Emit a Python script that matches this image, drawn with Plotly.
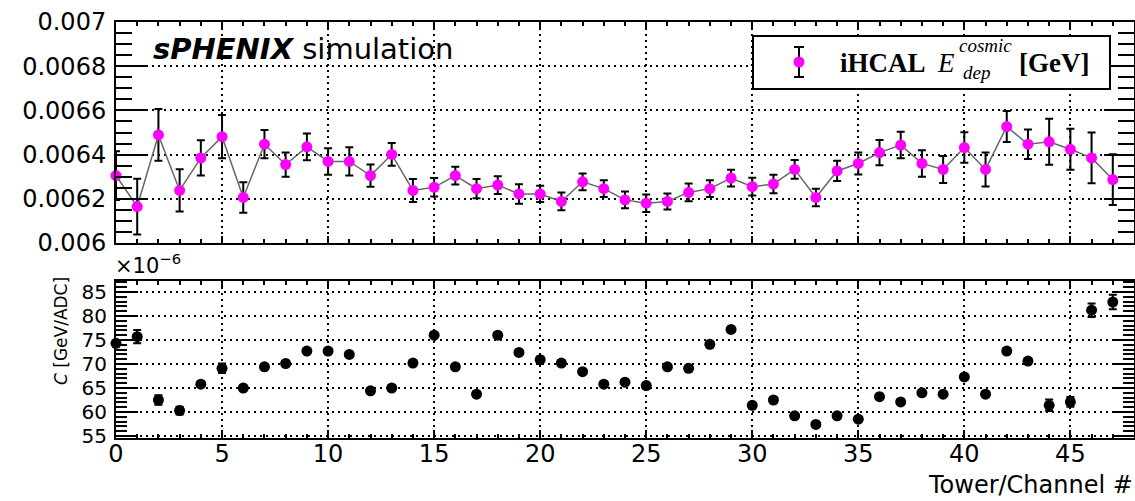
import plotly.graph_objects as go

# ---------------- data ----------------
channels = list(range(48))

edep_vals = [0.006305, 0.006165, 0.006489, 0.006238, 0.006385, 0.006481, 0.006206, 0.006447,
             0.006355, 0.006435, 0.006369, 0.006369, 0.006305, 0.006401, 0.006238, 0.006252,
             0.006305, 0.006246, 0.006262, 0.006222, 0.006222, 0.006188, 0.006277, 0.006246,
             0.006195, 0.006180, 0.006188, 0.006229, 0.006246, 0.006294, 0.006255, 0.006267,
             0.006333, 0.006206, 0.006326, 0.006360, 0.006409, 0.006443, 0.006360, 0.006333,
             0.006432, 0.006333, 0.006527, 0.006447, 0.006458, 0.006424, 0.006385, 0.006287]
edep_errs = [0.000110, 0.000126, 0.000117, 0.000096, 0.000080, 0.000098, 0.000069, 0.000064,
             0.000055, 0.000061, 0.000060, 0.000064, 0.000050, 0.000052, 0.000052, 0.000042,
             0.000040, 0.000044, 0.000040, 0.000044, 0.000037, 0.000040, 0.000038, 0.000038,
             0.000038, 0.000040, 0.000036, 0.000040, 0.000038, 0.000038, 0.000040, 0.000042,
             0.000042, 0.000040, 0.000046, 0.000050, 0.000057, 0.000060, 0.000060, 0.000061,
             0.000069, 0.000077, 0.000070, 0.000067, 0.000104, 0.000093, 0.000115, 0.000115]

calib_vals = [74.3, 75.7, 62.5, 60.3, 65.8, 69.1, 65.0, 69.4, 70.1, 72.7, 72.7, 72.0,
              64.4, 65.0, 70.2, 76.0, 69.4, 63.7, 76.0, 72.4, 70.9, 70.2, 68.4, 65.8,
              66.2, 65.5, 69.4, 69.1, 74.1, 77.2, 61.4, 62.5, 59.2, 57.4, 59.2, 58.5,
              63.2, 62.1, 64.0, 63.7, 67.3, 63.7, 72.7, 70.6, 61.4, 62.1, 81.2, 82.9]
calib_errs = [0.6, 1.4, 1.0, 0.8, 0.6, 1.0, 0.5, 0.5, 0.5, 0.5, 0.5, 0.5,
              0.5, 0.5, 0.5, 0.6, 0.5, 0.5, 0.5, 0.5, 0.6, 0.5, 0.5, 0.5,
              0.5, 0.6, 0.5, 0.5, 0.5, 0.5, 0.5, 0.5, 0.5, 0.5, 0.5, 0.5,
              0.5, 0.5, 0.5, 0.5, 0.5, 0.5, 0.6, 0.5, 1.2, 1.0, 1.4, 1.5]

top_tickvals = [0.006, 0.0062, 0.0064, 0.0066, 0.0068, 0.007]
top_ticktext = ["0.006", "0.0062", "0.0064", "0.0066", "0.0068", "0.007"]
bot_tickvals = [55, 60, 65, 70, 75, 80, 85]
x_tickvals = [0, 5, 10, 15, 20, 25, 30, 35, 40, 45]

# ---------------- geometry helpers ----------------
W, H = 1135, 501
def px(x):
    return x / W
def py(y):
    return 1 - y / H

FONT = "DejaVu Sans"
SERIF = "Liberation Serif"
MAGENTA = "#ff00ff"

fig = go.Figure()

fig.add_trace(go.Scatter(
    x=channels, y=edep_vals,
    error_y=dict(type="data", array=edep_errs, color="black", thickness=2, width=4),
    mode="lines+markers",
    line=dict(color="#666666", width=1.5),
    marker=dict(color=MAGENTA, size=11),
    cliponaxis=False, showlegend=False,
    xaxis="x", yaxis="y",
))

fig.add_trace(go.Scatter(
    x=channels, y=calib_vals,
    error_y=dict(type="data", array=calib_errs, color="black", thickness=2, width=4),
    mode="markers",
    marker=dict(color="black", size=11),
    cliponaxis=False, showlegend=False,
    xaxis="x2", yaxis="y2",
))

grid = dict(showgrid=True, gridcolor="black", gridwidth=1.5, griddash="2px,4px")
axline = dict(showline=True, linecolor="black", linewidth=2, mirror="ticks",
              ticks="inside", tickcolor="black", tickwidth=2, zeroline=False,
              automargin=False)

xdom = [px(116), px(1134)]
TICKFONT = dict(family=FONT, size=24, color="black")
TICKFONT_SMALL = dict(family=FONT, size=20, color="black")

fig.update_layout(
    template="none",
    width=W, height=H,
    margin=dict(l=0, r=0, t=0, b=0, pad=0, autoexpand=False),
    paper_bgcolor="white", plot_bgcolor="white",
    font=dict(family=FONT, color="black", size=22),
    xaxis=dict(domain=xdom, range=[0, 48], anchor="y",
               tickvals=x_tickvals, showticklabels=False, ticklen=7,
               minor=dict(dtick=1, ticks="inside", ticklen=4, tickcolor="black", tickwidth=1.5, showgrid=False),
               **grid, **axline),
    yaxis=dict(domain=[py(243), py(22)], range=[0.006, 0.007], anchor="x",
               tickvals=top_tickvals, ticktext=top_ticktext, ticklen=30,
               tickfont=TICKFONT, ticklabelstandoff=3,
               minor=dict(dtick=0.00005, tick0=0.006, ticks="inside", ticklen=16, tickcolor="black", tickwidth=1.5, showgrid=False),
               **grid, **axline),
    xaxis2=dict(domain=xdom, range=[0, 48], anchor="y2",
                tickvals=x_tickvals, ticklen=8,
                tickfont=TICKFONT, ticklabelstandoff=-7,
                minor=dict(dtick=1, ticks="inside", ticklen=4, tickcolor="black", tickwidth=1.5, showgrid=False),
                **grid, **axline),
    yaxis2=dict(domain=[py(438), py(281)], range=[54.58, 87.29], anchor="x2",
                tickvals=bot_tickvals, ticklen=22,
                tickfont=TICKFONT_SMALL, ticklabelstandoff=3,
                minor=dict(dtick=1, tick0=55, ticks="inside", ticklen=11, tickcolor="black", tickwidth=1.5, showgrid=False),
                **grid, **axline),
)

# ---------------- legend (drawn by hand, ROOT style) ----------------
shapes = [
    dict(type="rect", xref="paper", yref="paper", x0=px(753), x1=px(1110), y0=py(89), y1=py(36),
         line=dict(color="black", width=2), fillcolor="white", layer="above"),
    dict(type="line", xref="paper", yref="paper", x0=px(799), x1=px(799), y0=py(77), y1=py(47),
         line=dict(color="black", width=2), layer="above"),
    dict(type="line", xref="paper", yref="paper", x0=px(794), x1=px(804), y0=py(47), y1=py(47),
         line=dict(color="black", width=2), layer="above"),
    dict(type="line", xref="paper", yref="paper", x0=px(794), x1=px(804), y0=py(77), y1=py(77),
         line=dict(color="black", width=2), layer="above"),
    dict(type="circle", xref="paper", yref="paper", x0=px(793.5), x1=px(804.5), y0=py(67.5), y1=py(56.5),
         line=dict(color=MAGENTA, width=0), fillcolor=MAGENTA, layer="above"),
]
fig.update_layout(shapes=shapes)

ann = [
    dict(text="<b><i>sPHENIX</i></b> simulation", x=px(151), y=py(49), xanchor="left", yanchor="middle",
         font=dict(family=FONT, size=29, color="black")),
    dict(text="<b>iHCAL</b>", x=px(838), y=py(63), xanchor="left", yanchor="middle",
         font=dict(family=SERIF, size=27, color="black")),
    dict(text="<i>E</i>", x=px(935), y=py(63), xanchor="left", yanchor="middle",
         font=dict(family=SERIF, size=27, color="black")),
    dict(text="<i>cosmic</i>", x=px(957), y=py(46), xanchor="left", yanchor="middle",
         font=dict(family=SERIF, size=19, color="black")),
    dict(text="<i>dep</i>", x=px(961), y=py(72), xanchor="left", yanchor="middle",
         font=dict(family=SERIF, size=19, color="black")),
    dict(text="<b>[GeV]</b>", x=px(1017), y=py(63), xanchor="left", yanchor="middle",
         font=dict(family=SERIF, size=27, color="black")),
    dict(text="×10<sup>−6</sup>", x=px(113), y=py(280), xanchor="left", yanchor="bottom",
         font=dict(family=FONT, size=21, color="black")),
    dict(text="<i>C</i> [GeV/ADC]", x=px(61), y=py(331), xanchor="center", yanchor="middle",
         textangle=-90, font=dict(family=FONT, size=17, color="black")),
    dict(text="Tower/Channel #", x=px(1135), y=py(501), xanchor="right", yanchor="bottom",
         font=dict(family=FONT, size=24, color="black")),
]
for a in ann:
    a.update(xref="paper", yref="paper", showarrow=False)
fig.update_layout(annotations=ann)

fig.write_html("out.html")
